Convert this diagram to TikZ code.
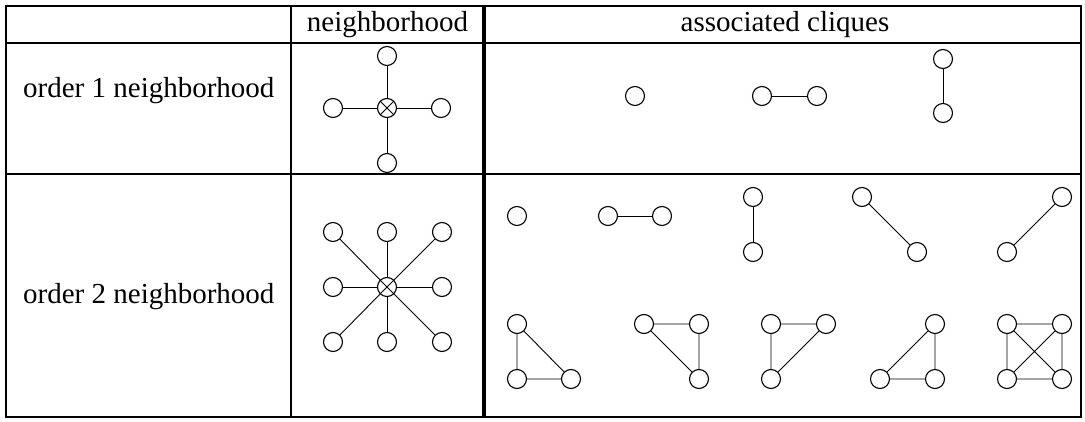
\documentclass[tikz,border=0pt]{standalone}
\usepackage{fontspec}
\setmainfont{Liberation Serif}
\begin{document}
\begin{tikzpicture}[x=1pt,y=-1pt,
  v/.style={circle,draw,line width=1.1pt,minimum size=19pt,inner sep=0pt},
  e/.style={line width=0.9pt},
  rule/.style={line width=2.6pt},
  lbl/.style={font=\fontsize{29}{34}\selectfont,inner sep=0pt}]
\useasboundingbox (0,0) rectangle (1085,422);

% table rules
\draw[rule] (6,6) rectangle (1081,417);
\draw[rule] (6,43) -- (1081,43);
\draw[rule] (6,174) -- (1081,174);
\draw[rule] (291,6) -- (291,417);
\draw[line width=3.2pt] (484,6) -- (484,417);

% header and row labels
\node[lbl,anchor=base] (h1) at (387.5,32) {neighborhood};
\node[lbl,anchor=base] (h2) at (785,32) {associated cliques};
\node[lbl,anchor=base west] (r1) at (23,98) {order 1 neighborhood};
\node[lbl,anchor=base west] (r2) at (23,303) {order 2 neighborhood};

% order 1 neighborhood
\node[v] (c1) at (387,108) {};
\draw[e] (c1.45) -- (c1.225) (c1.135) -- (c1.315);
\node[v] (c1w) at (333,108) {};
\node[v] (c1e) at (441,108) {};
\node[v] (c1n) at (387,56) {};
\node[v] (c1s) at (387,163) {};
\foreach \n in {c1w,c1e,c1n,c1s} \draw[e] (c1) -- (\n);

% order 1 cliques
\node[v] (p1) at (635,96) {};
\node[v] (p2a) at (762,96) {};
\node[v] (p2b) at (817,96) {};
\draw[e] (p2a) -- (p2b);
\node[v] (p3a) at (943,59) {};
\node[v] (p3b) at (943,113) {};
\draw[e] (p3a) -- (p3b);

% order 2 neighborhood
\node[v] (c2) at (387,287) {};
\draw[e] (c2.45) -- (c2.225) (c2.135) -- (c2.315);
\node[v] (g11) at (333,232) {};
\node[v] (g12) at (387,232) {};
\node[v] (g13) at (442,232) {};
\node[v] (g21) at (333,287) {};
\node[v] (g23) at (442,287) {};
\node[v] (g31) at (333,342) {};
\node[v] (g32) at (387,342) {};
\node[v] (g33) at (442,342) {};
\foreach \n in {g11,g12,g13,g21,g23,g31,g32,g33} \draw[e] (c2) -- (\n);

% order 2 cliques, first row
\node[v] (q1) at (517,216) {};
\node[v] (q2a) at (608,216) {};
\node[v] (q2b) at (662,216) {};
\draw[e] (q2a) -- (q2b);
\node[v] (q3a) at (753,197) {};
\node[v] (q3b) at (753,252) {};
\draw[e] (q3a) -- (q3b);
\node[v] (q4a) at (862,197) {};
\node[v] (q4b) at (917,252) {};
\draw[e] (q4a) -- (q4b);
\node[v] (q5a) at (1062,197) {};
\node[v] (q5b) at (1007,252) {};
\draw[e] (q5a) -- (q5b);

% order 2 cliques, second row
\node[v] (t1a) at (517,324) {};
\node[v] (t1b) at (517,379) {};
\node[v] (t1c) at (571,379) {};
\draw[e] (t1a) -- (t1b) (t1b) -- (t1c) (t1a) -- (t1c);

\node[v] (t2a) at (644,324) {};
\node[v] (t2b) at (699,324) {};
\node[v] (t2c) at (699,379) {};
\draw[e] (t2a) -- (t2b) (t2b) -- (t2c) (t2a) -- (t2c);

\node[v] (t3a) at (771,324) {};
\node[v] (t3b) at (826,324) {};
\node[v] (t3c) at (771,379) {};
\draw[e] (t3a) -- (t3b) (t3a) -- (t3c) (t3b) -- (t3c);

\node[v] (t4a) at (935,324) {};
\node[v] (t4b) at (880,379) {};
\node[v] (t4c) at (935,379) {};
\draw[e] (t4a) -- (t4c) (t4b) -- (t4c) (t4a) -- (t4b);

\node[v] (k1) at (1007,324) {};
\node[v] (k2) at (1062,324) {};
\node[v] (k3) at (1007,379) {};
\node[v] (k4) at (1062,379) {};
\draw[e] (k1) -- (k2) (k3) -- (k4) (k1) -- (k3) (k2) -- (k4) (k1) -- (k4) (k2) -- (k3);
\end{tikzpicture}
\end{document}
